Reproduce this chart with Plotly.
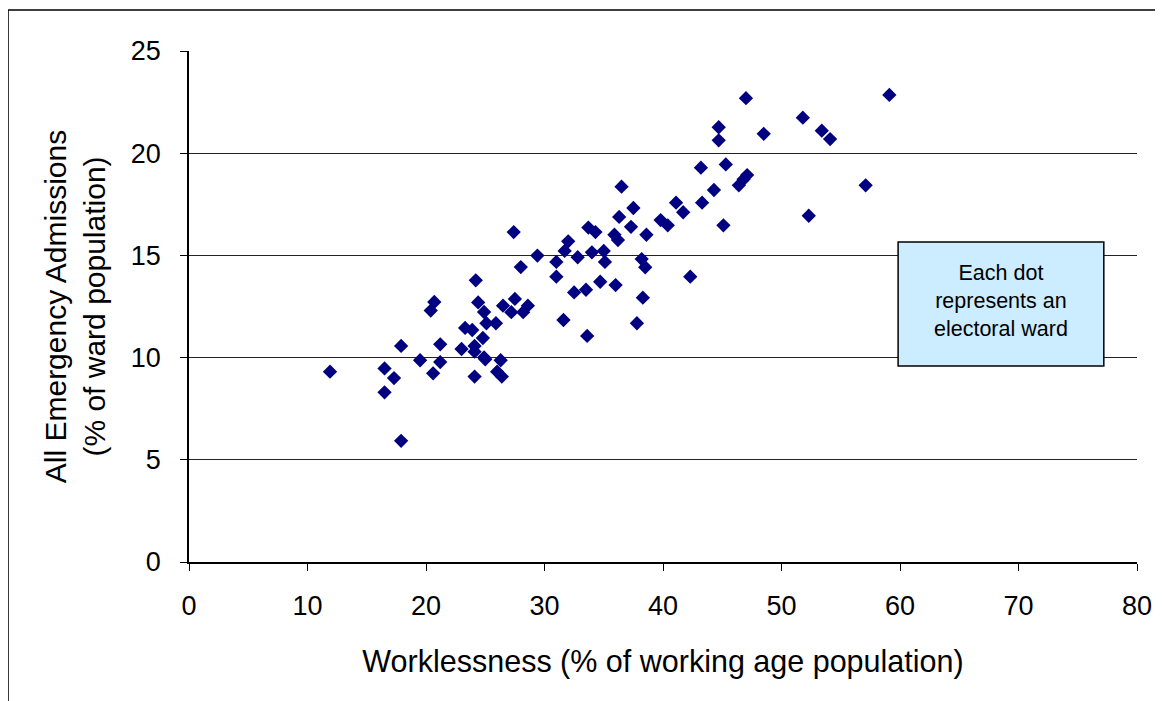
import plotly.graph_objects as go

# Worklessness (% of working age population)
worklessness = [
    11.9, 16.5, 16.5, 17.3, 17.9, 17.9, 19.5, 20.4, 20.7, 20.6,
    21.2, 21.2, 23.0, 23.3, 23.9, 24.2, 24.1, 24.1, 24.1, 24.4,
    24.8, 24.9, 24.9, 25.0, 25.1, 25.9, 26.0, 26.4, 26.3, 26.5,
    27.4, 27.2, 27.5, 28.0, 28.2, 28.6, 29.4, 31.0, 31.0, 31.6,
    31.7, 32.0, 32.5, 32.8, 33.5, 33.6, 33.7, 34.3, 34.0, 34.7,
    35.0, 35.1, 36.0, 35.9, 36.2, 36.3, 36.5, 37.3, 37.5, 37.8,
    38.2, 38.5, 38.3, 38.6, 39.8, 40.4, 41.1, 41.7, 42.3, 43.2,
    43.3, 44.3, 44.7, 44.7, 45.3, 45.1, 46.4, 46.8, 47.1, 47.0,
    48.5, 51.8, 53.4, 54.1, 52.3, 57.1, 59.1,
]

# All Emergency Admissions (% of ward population)
admissions = [
    9.31, 9.47, 8.30, 9.00, 10.57, 5.93, 9.87, 12.30, 12.72, 9.23,
    10.65, 9.78, 10.42, 11.45, 11.35, 13.78, 10.57, 10.29, 9.07, 12.70,
    10.96, 12.23, 10.01, 9.92, 11.68, 11.68, 9.31, 9.07, 9.87, 12.54,
    16.14, 12.22, 12.87, 14.43, 12.22, 12.54, 14.99, 14.68, 13.96, 11.84,
    15.22, 15.69, 13.19, 14.91, 13.32, 11.06, 16.36, 16.14, 15.15, 13.71,
    15.22, 14.68, 13.55, 16.01, 15.75, 16.88, 18.36, 16.40, 17.32, 11.68,
    14.82, 14.42, 12.93, 16.01, 16.73, 16.47, 17.58, 17.11, 13.96, 19.29,
    17.58, 18.20, 21.27, 20.63, 19.45, 16.47, 18.43, 18.72, 18.93, 22.69,
    20.95, 21.74, 21.10, 20.69, 16.94, 18.43, 22.85,
]

x_ticks = [0, 10, 20, 30, 40, 50, 60, 70, 80]
y_ticks = [0, 5, 10, 15, 20, 25]

FONT = "Liberation Sans, Arial, sans-serif"

fig = go.Figure()
fig.add_trace(go.Scatter(
    x=worklessness, y=admissions, mode="markers",
    marker=dict(symbol="diamond", size=11, color="#000080", line=dict(width=0)),
    showlegend=False, hoverinfo="x+y",
))

fig.update_layout(
    width=1155, height=693,
    margin=dict(l=181, r=26, t=43, b=139),
    paper_bgcolor="white", plot_bgcolor="white",
    font=dict(family=FONT, color="black"),
    xaxis=dict(
        range=[0, 80], tickmode="array", tickvals=x_ticks,
        ticks="outside", ticklen=7, tickcolor="black", tickwidth=1,
        showline=True, linecolor="black", linewidth=1.5,
        showgrid=False, zeroline=False,
        tickfont=dict(size=27, family=FONT),
        ticklabelstandoff=12,
        title=dict(text="Worklessness (% of working age population)",
                   font=dict(size=30.5, family=FONT), standoff=30),
    ),
    yaxis=dict(
        range=[0, 25], tickmode="array", tickvals=y_ticks,
        ticks="outside", ticklen=7, tickcolor="black", tickwidth=1,
        showline=True, linecolor="black", linewidth=1.5,
        showgrid=True, gridcolor="#222222", gridwidth=1,
        zeroline=False,
        tickfont=dict(size=27, family=FONT),
        ticklabelstandoff=14,
        title=dict(text="All Emergency Admissions<br>(% of ward population)",
                   font=dict(size=30, family=FONT), standoff=16),
    ),
    shapes=[
        # outer chart border
        dict(type="rect", xref="paper", yref="paper",
             x0=-0.1909, x1=1.0211, y0=-0.35, y1=1.0802,
             line=dict(color="black", width=1.5), fillcolor="rgba(0,0,0,0)", layer="below"),
        # annotation box
        dict(type="rect", xref="paper", yref="paper",
             x0=0.748, x1=0.965, y0=0.3836, y1=0.626,
             line=dict(color="black", width=1.5), fillcolor="#CCECFF", layer="above"),
    ],
    annotations=[
        dict(xref="paper", yref="paper", x=0.8565, y=0.51,
             xanchor="center", yanchor="middle",
             text="Each dot<br>represents an<br>electoral ward",
             showarrow=False, align="center",
             font=dict(size=21.5, family=FONT, color="black")),
    ],
)

fig.write_html("out.html")
